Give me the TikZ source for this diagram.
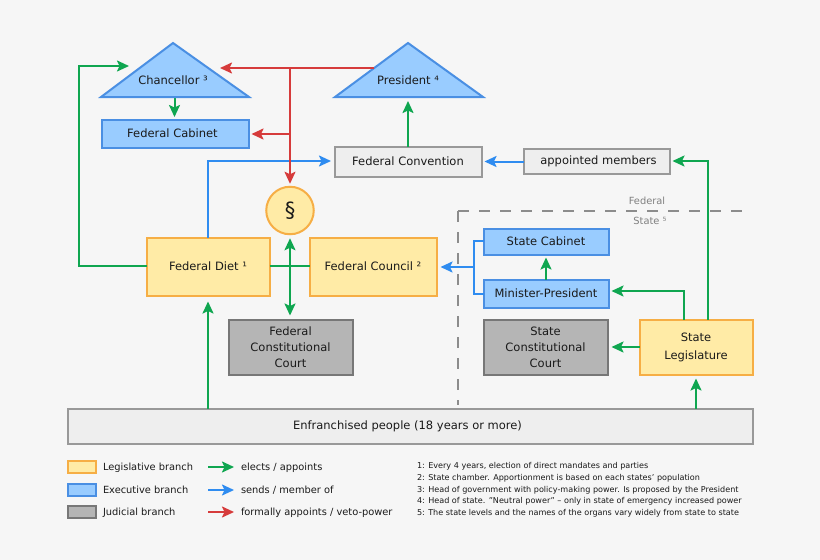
\documentclass[tikz,border=0pt]{standalone}
\usepackage{fontspec}
\setmainfont{DejaVu Sans}
\usetikzlibrary{arrows.meta}
\definecolor{bgc}{HTML}{F6F6F6}
\definecolor{gr}{HTML}{0FA650}
\definecolor{bl}{HTML}{2F8CF0}
\definecolor{rd}{HTML}{D63B3B}
\definecolor{lfill}{HTML}{FFEBA6}
\definecolor{lline}{HTML}{F6AE45}
\definecolor{efill}{HTML}{99CCFF}
\definecolor{eline}{HTML}{4A8FE3}
\definecolor{jfill}{HTML}{B5B5B5}
\definecolor{jline}{HTML}{777777}
\definecolor{nfill}{HTML}{EEEEEE}
\definecolor{nline}{HTML}{999999}
\definecolor{txt}{HTML}{1A1A1A}
\tikzset{
  x=1pt,y=-1pt,
  >={Stealth[length=12pt,width=11pt,inset=2.5pt]},
  every node/.style={text=txt,font=\fontsize{11.5}{16}\selectfont,inner sep=0pt,outer sep=0pt},
  boxbase/.style={draw,line width=2pt,align=center},
  leg/.style={boxbase,fill=lfill,draw=lline},
  exe/.style={boxbase,fill=efill,draw=eline},
  jud/.style={boxbase,fill=jfill,draw=jline},
  neu/.style={boxbase,fill=nfill,draw=nline},
  garrow/.style={draw=gr,line width=2pt,->},
  barrow/.style={draw=bl,line width=2pt,->},
  rarrow/.style={draw=rd,line width=2pt,->},
  gline/.style={draw=gr,line width=2pt},
  bline/.style={draw=bl,line width=2pt},
  rline/.style={draw=rd,line width=2pt},
  dashline/.style={draw=black!45,line width=1.6pt,dash pattern=on 11pt off 10pt},
  small/.style={font=\fontsize{9.85}{13}\selectfont,anchor=base west},
  foot/.style={font=\fontsize{8.08}{11}\selectfont,anchor=base west},
  zone/.style={font=\fontsize{9.85}{12}\selectfont,text=black!50},
  swatch/.style={minimum width=28pt,minimum height=12pt},
}
\newcommand{\bx}[7]{\node[#1,minimum width=#4-#3-1,minimum height=#6-#5-1] (#2) at ({(#3+#4)/2},{(#5+#6)/2}) {#7};}
\begin{document}
\begin{tikzpicture}
\useasboundingbox[fill=bgc] (0,0) rectangle (820,560);

% federal/state divider
\coordinate (divL) at (458,211);
\coordinate (divR) at (745,211);
\coordinate (divB) at (458,405);
\draw[dashline] (divL) -- (divR);
\draw[dashline] (divL) -- (divB);
\node[zone] (lfed) at (647,201) {Federal};
\node[zone] (lsta) at (650,221) {State ⁵};

% triangles
\coordinate (cA) at (173,43);
\coordinate (cL) at (101,97);
\coordinate (cR) at (249,97);
\coordinate (pA) at (408,43);
\coordinate (pL) at (335,97);
\coordinate (pR) at (483,97);

% boxes
\bx{exe}{cab}{101}{249}{119}{148}{\hspace*{-5pt}Federal Cabinet}
\bx{neu}{conv}{334}{482}{146}{177}{Federal Convention}
\bx{neu}{app}{523}{670}{148}{174}{\hspace*{4pt}appointed members}
\bx{leg}{diet}{146}{270}{237}{296}{Federal Diet ¹}
\bx{leg}{coun}{309}{437}{237}{296}{Federal Council ²}
\bx{jud}{fcc}{228}{353}{319}{375}{Federal\\Constitutional\\Court}
\bx{exe}{scab}{483}{609}{228}{255}{State Cabinet}
\bx{exe}{mp}{483}{609}{279}{308}{Minister-President}
\bx{jud}{scc}{483}{608}{319}{375}{State\\Constitutional\\Court}
\bx{leg}{sl}{639}{753}{319}{375}{State\\[2pt]Legislature}
\node[draw=nline,fill=nfill,line width=2pt,minimum width=685pt,minimum height=35pt] (ppl) at (410,426) {\hspace*{-5pt}Enfranchised people (18 years or more)};
\node[draw=lline,fill=lfill,line width=2pt,circle,minimum size=47.5pt,font=\fontsize{21}{24}\selectfont] (sec) at (290,210.5) {§};

% routing points
\coordinate (d1) at (79,266);
\coordinate (d2) at (79,66);
\coordinate (d3) at (129,66);
\coordinate (r0) at (374,68);
\coordinate (r1) at (290,68);
\coordinate (r2) at (220,68);
\coordinate (r3) at (290,134);
\coordinate (b1) at (208,161);
\coordinate (b2) at (474,241);
\coordinate (b3) at (474,294);
\coordinate (b4) at (474,267);
\coordinate (cb) at (174.5,97);
\coordinate (g1) at (708,161);
\coordinate (g2) at (684,291);

% green connectors
\draw[garrow] (diet.west |- d1) -- (d1) -- (d2) -- (d3);
\draw[garrow,shorten >=2.5pt] (cb) -- (cb |- cab.north);
\draw[gline] (diet.east |- d1) -- (coun.west |- d1);
\draw[garrow,<->,shorten >=4pt,shorten <=4pt] (sec.south) -- (fcc.north -| sec.south);
\draw[garrow,shorten >=6pt] (ppl.north -| diet.south) -- (diet.south);
\draw[garrow,shorten >=4pt] (conv.north -| pA) -- (408,97);
\draw[garrow,shorten >=3pt] (sl.north -| g1) -- (g1) -- (app.east |- g1);
\draw[garrow,shorten >=3pt] (sl.north -| g2) -- (g2) -- (mp.east |- g2);
\draw[garrow,shorten >=3pt] (mp.north -| scab.south) -- (scab.south);
\draw[garrow,shorten >=4pt] (sl.west) -- (scc.east |- sl.west);
\draw[garrow,shorten >=4pt] (ppl.north -| 696,0) -- (sl.south -| 696,0);

% blue connectors
\draw[barrow] (diet.north -| b1) -- (b1) -- ++(123,0) coordinate (b5);
\draw[barrow,shorten >=3pt] (app.west |- conv.east) -- (conv.east);
\draw[bline] (scab.west |- b2) -- (b2) -- (b3) -- (mp.west |- b3);
\draw[barrow,shorten >=4pt] (b4) -- (coun.east |- b4);

% red connectors
\draw[rline] (r1) -- (r3);
\draw[rarrow,shorten >=3pt] (r1) -- (sec.north);
\draw[rarrow,shorten >=3pt] (r3) -- (cab.east |- r3);

\draw[fill=efill,draw=eline,line width=2pt,miter limit=10] (cA) -- (cR) -- (cL) -- cycle;
\draw[fill=efill,draw=eline,line width=2pt,miter limit=10] (pA) -- (pR) -- (pL) -- cycle;
\node (chan) at (173,80) {Chancellor ³};
\node (pres) at (408,80) {President ⁴};
% red line over the triangle edge
\draw[rarrow] (r0) -- (r2);

% legend
\node[swatch,leg] (s1) at (81.5,467) {};
\node[swatch,exe] (s2) at (81.5,489.5) {};
\node[swatch,jud] (s3) at (81.5,512) {};
\node[small] (t1) at (103,470) {Legislative branch};
\node[small] (t2) at (103,493) {Executive branch};
\node[small] (t3) at (103,515) {Judicial branch};
\coordinate (a1) at (208,467);
\coordinate (a2) at (208,490);
\coordinate (a3) at (208,512);
\draw[garrow] (a1) -- ++(26,0);
\draw[barrow] (a2) -- ++(26,0);
\draw[rarrow] (a3) -- ++(26,0);
\node[small] (t4) at (241,470) {elects / appoints};
\node[small] (t5) at (241,493) {sends / member of};
\node[small] (t6) at (241,515) {formally appoints / veto-power};

% footnotes
\node[foot] (f1) at (417,468) {1: Every 4 years, election of direct mandates and parties};
\node[foot] (f2) at (417,480) {2: State chamber. Apportionment is based on each states' population};
\node[foot] (f3) at (417,492) {3: Head of government with policy-making power. Is proposed by the President};
\node[foot] (f4) at (417,503) {4: Head of state. "Neutral power" – only in state of emergency increased power};
\node[foot] (f5) at (417,515) {5: The state levels and the names of the organs vary widely from state to state};
\end{tikzpicture}
\end{document}
